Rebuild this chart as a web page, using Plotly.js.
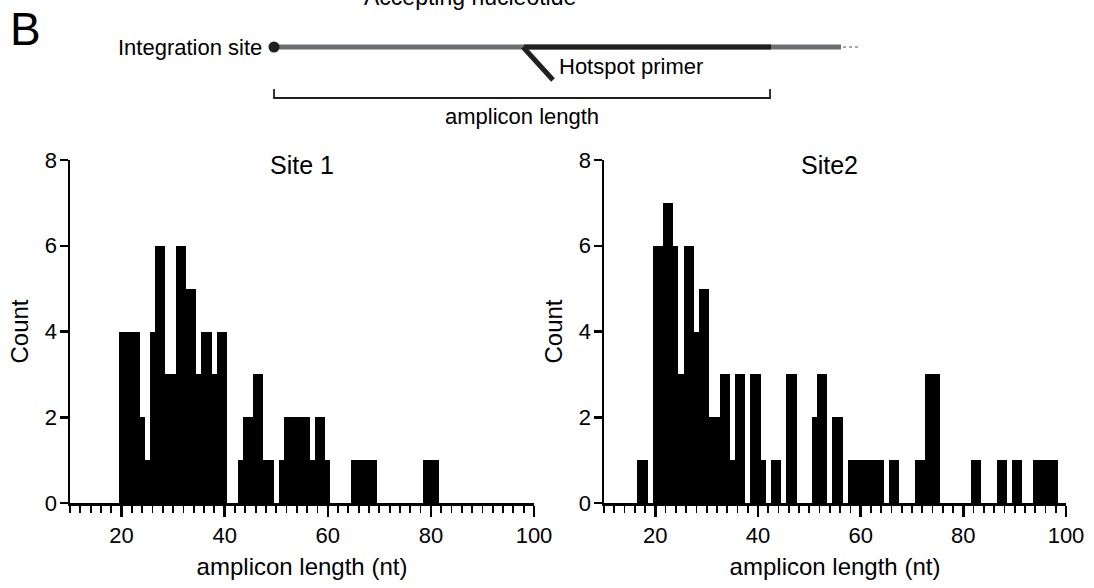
<!DOCTYPE html>
<html>
<head>
<meta charset="utf-8">
<script src="https://cdn.plot.ly/plotly-3.0.1.min.js"></script>
<style>
  html, body { margin: 0; padding: 0; background: #ffffff; }
  #chart { width: 1094px; height: 588px; }
</style>
</head>
<body>
<div id="chart"></div>
<script>
// ---- data: amplicon length (nt) bins (1-nt wide, centred on integers) and counts ----
const site1Lengths = [20,21,22,23,24,25,26,27,28,29,30,31,32,33,34,35,36,37,38,39,40,
                      43,44,45,46,47,48,49,51,52,53,54,55,56,57,58,59,60,
                      65,66,67,68,69,79,80,81];
const site1Counts  = [4,4,4,4,2,1,4,6,6,3,3,6,6,5,5,3,4,4,3,4,4,
                      1,2,2,3,3,1,1,1,2,2,2,2,2,1,2,2,1,
                      1,1,1,1,1,1,1,1];

const site2Lengths = [17,18,20,21,22,23,24,25,26,27,28,29,30,31,32,33,34,35,36,37,
                      39,40,41,43,44,46,47,51,52,53,55,56,
                      58,59,60,61,62,63,64,66,67,71,72,73,74,75,
                      82,83,87,88,90,91,94,95,96,97,98];
const site2Counts  = [1,1,6,6,7,7,6,3,6,6,4,5,5,2,2,3,3,1,3,3,
                      3,3,1,1,1,3,3,2,3,3,2,2,
                      1,1,1,1,1,1,1,1,1,1,1,3,3,3,
                      1,1,1,1,1,1,1,1,1,1,1];

const panelTitles = ["Site 1", "Site2"];
const xTickVals = [20, 40, 60, 80, 100];
const yTickVals = [0, 2, 4, 6, 8];
const xTitle = "amplicon length (nt)";
const yTitle = "Count";

// ---- layout helpers ----
const W = 1094, H = 588;
const px = v => v / W;
const py = v => 1 - v / H;
const FONT = "Liberation Sans, Arial, Helvetica, sans-serif";

function barTrace(x, y, xa, ya) {
  return {
    type: "bar", x: x, y: y, width: 1, xaxis: xa, yaxis: ya,
    marker: { color: "#000000", line: { width: 0 } },
    hoverinfo: "x+y"
  };
}

function xAxis(domain, anchor) {
  return {
    domain: domain, anchor: anchor, range: [10, 100],
    showline: true, linewidth: 2.5, linecolor: "#000",
    showgrid: false, zeroline: false,
    ticks: "outside", tickvals: xTickVals, ticklen: 11, tickwidth: 2.5, tickcolor: "#000",
    minor: { ticks: "outside", dtick: 2, tick0: 0, ticklen: 7, tickwidth: 1.8, tickcolor: "#000", showgrid: false },
    tickfont: { family: FONT, size: 22, color: "#000" },
    title: { text: xTitle, font: { family: FONT, size: 24, color: "#000" }, standoff: 12 }
  };
}
function yAxis(domain, anchor) {
  return {
    domain: domain, anchor: anchor, range: [0, 8],
    showline: true, linewidth: 2.5, linecolor: "#000",
    showgrid: false, zeroline: false,
    ticks: "outside", tickvals: yTickVals, ticklen: 8, tickwidth: 2.5, tickcolor: "#000",
    ticklabelstandoff: -2,
    tickfont: { family: FONT, size: 22, color: "#000" },
    title: { text: yTitle, font: { family: FONT, size: 24, color: "#000" }, standoff: 10 }
  };
}

const yDom = [py(503), py(160)];
const layout = {
  width: W, height: H,
  margin: { l: 0, r: 0, t: 0, b: 0 },
  paper_bgcolor: "#ffffff", plot_bgcolor: "#ffffff",
  showlegend: false, bargap: 0,
  font: { family: FONT, color: "#000" },
  xaxis: xAxis([px(70), px(534)], "y"),
  yaxis: yAxis(yDom, "x"),
  xaxis2: xAxis([px(604), px(1066)], "y2"),
  yaxis2: yAxis(yDom, "x2"),
  shapes: [
    // schematic: grey genomic line, black primer-bound segment, primer tail, bracket
    { type: "line", xref: "paper", yref: "paper", x0: px(274), x1: px(841), y0: py(47), y1: py(47),
      line: { color: "#6d6e71", width: 5 } },
    { type: "line", xref: "paper", yref: "paper", x0: px(843), x1: px(860), y0: py(47), y1: py(47),
      line: { color: "#8a8a8a", width: 1.5, dash: "dot" } },
    { type: "line", xref: "paper", yref: "paper", x0: px(524), x1: px(771), y0: py(47), y1: py(47),
      line: { color: "#231f20", width: 5 } },
    { type: "line", xref: "paper", yref: "paper", x0: px(523), x1: px(553), y0: py(47), y1: py(80),
      line: { color: "#231f20", width: 5 } },
    { type: "circle", xref: "paper", yref: "paper", x0: px(268.5), x1: px(279.5), y0: py(41.5), y1: py(52.5),
      fillcolor: "#231f20", line: { width: 0 } },
    { type: "path", xref: "paper", yref: "paper",
      path: `M ${px(274)} ${py(89)} L ${px(274)} ${py(98)} L ${px(770)} ${py(98)} L ${px(770)} ${py(89)}`,
      line: { color: "#231f20", width: 1.8 } }
  ],
  annotations: [
    { text: panelTitles[0], xref: "paper", yref: "paper", x: px(302), y: py(165), showarrow: false,
      xanchor: "center", yanchor: "middle", font: { family: FONT, size: 25, color: "#000" } },
    { text: panelTitles[1], xref: "paper", yref: "paper", x: px(829), y: py(165), showarrow: false,
      xanchor: "center", yanchor: "middle", font: { family: FONT, size: 25, color: "#000" } },
    { text: "B", xref: "paper", yref: "paper", x: px(8), y: py(29), showarrow: false,
      xanchor: "left", yanchor: "middle", font: { family: FONT, size: 46, color: "#000" } },
    { text: "Accepting nucleotide", xref: "paper", yref: "paper", x: px(470), y: py(-3), showarrow: false,
      xanchor: "center", yanchor: "middle", font: { family: FONT, size: 23, color: "#000" } },
    { text: "Integration site", xref: "paper", yref: "paper", x: px(264), y: py(47), showarrow: false,
      xanchor: "right", yanchor: "middle", font: { family: FONT, size: 22, color: "#000" } },
    { text: "Hotspot primer", xref: "paper", yref: "paper", x: px(557), y: py(67), showarrow: false,
      xanchor: "left", yanchor: "middle", font: { family: FONT, size: 22, color: "#000" } },
    { text: "amplicon length", xref: "paper", yref: "paper", x: px(522), y: py(116), showarrow: false,
      xanchor: "center", yanchor: "middle", font: { family: FONT, size: 22, color: "#000" } }
  ]
};

const data = [
  barTrace(site1Lengths, site1Counts, "x", "y"),
  barTrace(site2Lengths, site2Counts, "x2", "y2")
];

Plotly.newPlot("chart", data, layout, { staticPlot: true, displayModeBar: false });
</script>
</body>
</html>
